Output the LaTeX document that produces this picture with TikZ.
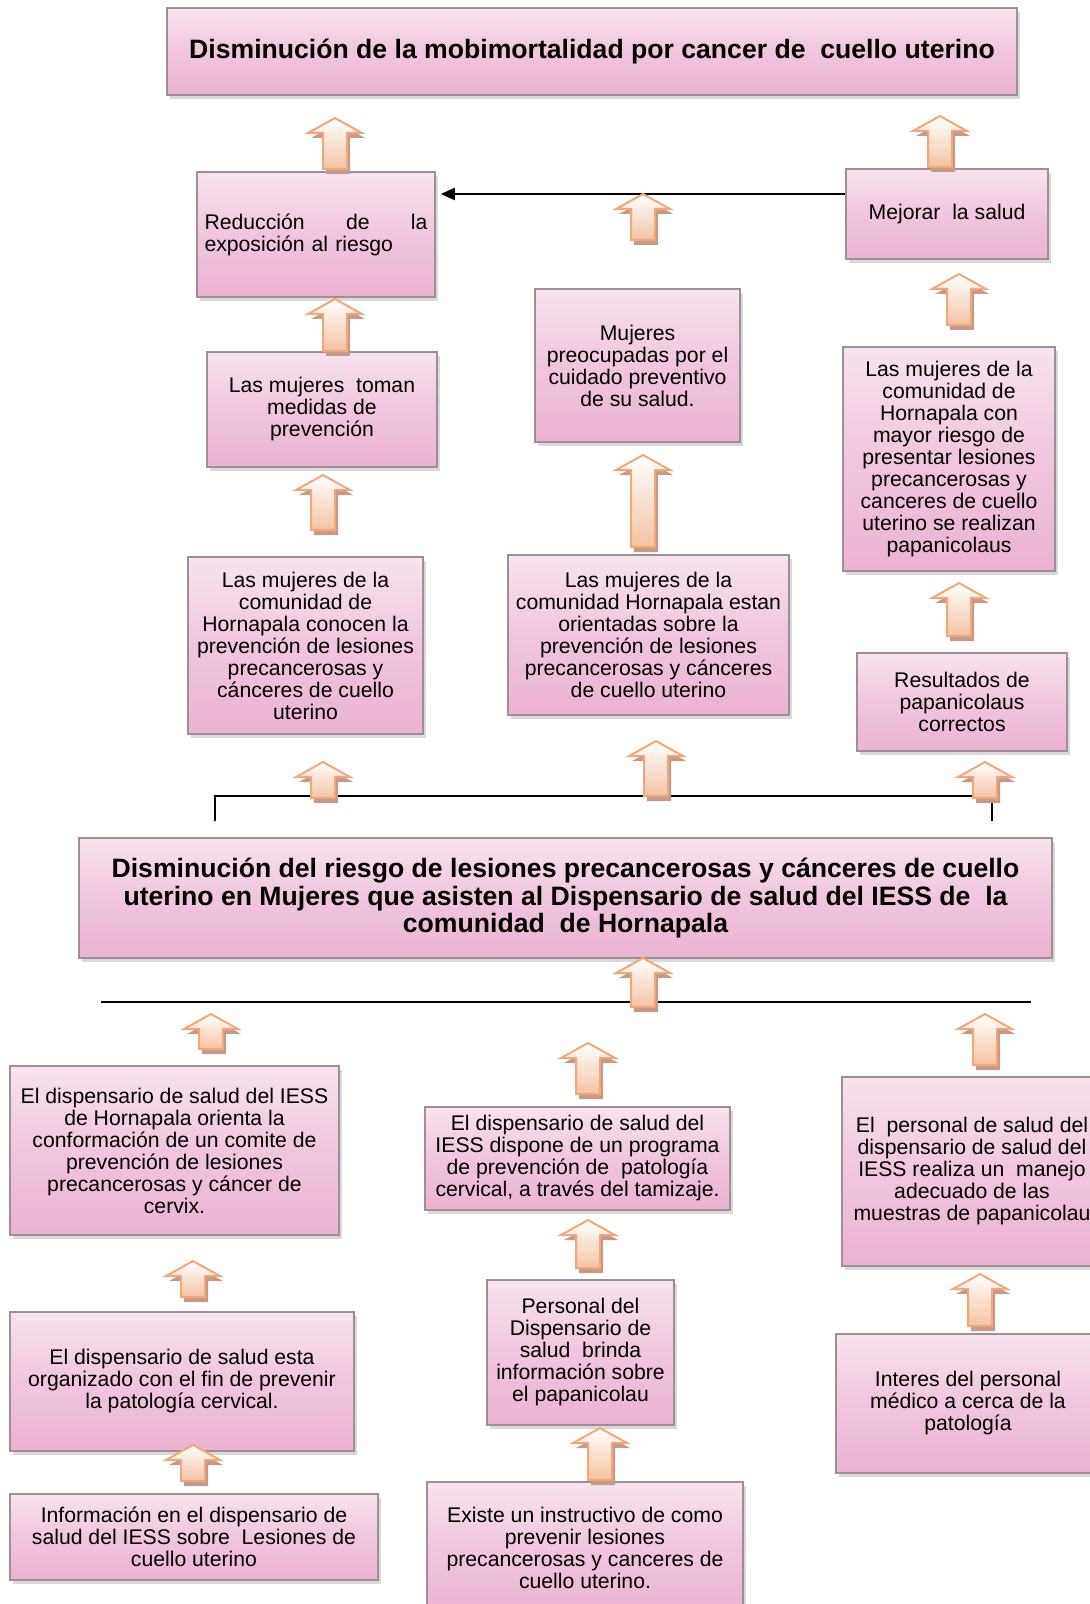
\documentclass[tikz,border=0pt]{standalone}
\usepackage{fontspec}
\setmainfont{Liberation Sans}
\usepackage{xcolor}
\usepackage{tikz}
\usetikzlibrary{arrows.meta,shadows}

\definecolor{cajaarriba}{HTML}{F7E3EE}
\definecolor{cajamedio}{HTML}{EFC6DD}
\definecolor{cajaabajo}{HTML}{EBB3D2}
\definecolor{cajaborde}{HTML}{9E8E96}
\definecolor{flechafondo}{HTML}{F5C2A2}
\definecolor{flechaborde}{HTML}{F2A77A}
\definecolor{flechasombra}{HTML}{C49A8A}

\tikzset{
  caja/.style={draw=cajaborde, line width=0.8pt, top color=cajaarriba, bottom color=cajaabajo,
    middle color=cajamedio, align=center, inner xsep=2pt, inner ysep=2pt,
    font=\fontsize{10.6}{11}\selectfont,
    drop shadow={shadow xshift=1.5pt, shadow yshift=-2pt, fill=black, opacity=0.15}},
  negrita/.style={caja, font=\fontsize{13.3}{13.8}\selectfont\bfseries},
  linea/.style={line width=1pt, black}
}

\begin{document}
\begin{tikzpicture}[x=0.5pt,y=-0.5pt]
\useasboundingbox (0,0) rectangle (1089,1604);

% fines
\node[negrita, minimum width=425pt, minimum height=43.5pt] (titulo) at (592,51.5)
  {Disminución de la mobimortalidad por cancer de\ \ cuello uterino};
\node[caja, minimum width=119pt, minimum height=62.5pt, text width=111.5pt, align=left] (reduccion) at (316,234.5)
  {Reducción \hfill de \hfill la\\exposición al riesgo};
\node[caja, minimum width=101pt, minimum height=45pt] (mejorar) at (947,214)
  {Mejorar\ \ la salud};
\node[caja, minimum width=102.5pt, minimum height=76.5pt] (preocupadas) at (637.5,365.5)
  {Mujeres\\preocupadas por el\\cuidado preventivo\\de su salud.};
\node[caja, minimum width=115pt, minimum height=57.5pt] (medidas) at (322,409.5)
  {Las mujeres\ \ toman\\medidas de\\prevención};
\node[caja, minimum width=106pt, minimum height=112pt] (riesgo) at (949,459)
  {Las mujeres de la\\comunidad de\\Hornapala con\\mayor riesgo de\\presentar lesiones\\precancerosas y\\canceres de cuello\\uterino se realizan\\papanicolaus};
\node[caja, minimum width=117.5pt, minimum height=88.5pt] (conocen) at (305.5,645.5)
  {Las mujeres de la\\comunidad de\\Hornapala conocen la\\prevención de lesiones\\precancerosas y\\cánceres de cuello\\uterino};
\node[caja, minimum width=140.5pt, minimum height=80pt] (orientadas) at (648.5,635)
  {Las mujeres de la\\comunidad Hornapala estan\\orientadas sobre la\\prevención de lesiones\\precancerosas y cánceres\\de cuello uterino};
\node[caja, minimum width=105pt, minimum height=49pt] (resultados) at (962,702)
  {Resultados de\\papanicolaus\\correctos};

% proposito
\node[negrita, minimum width=486.5pt, minimum height=60pt] (proposito) at (565.5,898)
  {Disminución del riesgo de lesiones precancerosas y cánceres de cuello\\uterino en Mujeres que asisten al Dispensario de salud del IESS de\ \ la\\comunidad\ \ de Hornapala};

% medios
\node[caja, minimum width=164.5pt, minimum height=84.5pt] (comite) at (174.5,1150.5)
  {El dispensario de salud del IESS\\de Hornapala orienta la\\conformación de un comite de\\prevención de lesiones\\precancerosas y cáncer de\\cervix.};
\node[caja, minimum width=152.5pt, minimum height=51.5pt] (programa) at (577.5,1158.5)
  {El dispensario de salud del\\IESS dispone de un programa\\de prevención de\ \ patología\\cervical, a través del tamizaje.};
\node[caja, minimum width=130pt, minimum height=94.5pt] (manejo) at (972,1171.5)
  {El\ \ personal de salud del\\dispensario de salud del\\IESS realiza un\ \ manejo\\adecuado de las\\muestras de papanicolau};
\node[caja, minimum width=172pt, minimum height=69.5pt] (organizado) at (182,1381.5)
  {El dispensario de salud esta\\organizado con el fin de prevenir\\la patología cervical.};
\node[caja, minimum width=93.5pt, minimum height=72.5pt] (brinda) at (580.5,1352.5)
  {Personal del\\Dispensario de\\salud\ \ brinda\\información sobre\\el papanicolau};
\node[caja, minimum width=132pt, minimum height=69.5pt] (interes) at (968,1403.5)
  {Interes del personal\\médico a cerca de la\\patología};
\node[caja, minimum width=184pt, minimum height=43pt] (informacion) at (194,1537)
  {Información en el dispensario de\\salud del IESS sobre\ \ Lesiones de\\cuello uterino};
\node[caja, minimum width=158pt, minimum height=66pt] (instructivo) at (585,1548)
  {Existe un instructivo de como\\prevenir lesiones\\precancerosas y canceres de\\cuello uterino.};

% lineas
\draw[linea, -{Triangle[length=7pt,width=6pt]}, shorten >=2.5pt] ([yshift=10pt]mejorar.west) -- ([yshift=10pt]mejorar.west -| reduccion.east);
\coordinate (llave1) at (215,821);
\coordinate (llave2) at (992,821);
\draw[linea] (llave1) -- ++(0,-25) -| (llave2);
\coordinate (base1) at (101,1002);
\coordinate (base2) at (1031,1002);
\draw[linea] (base1) -- (base2);

% flechas de bloque
\foreach \x/\t/\b in {335/118/169, 940/116/167, 643/194/240, 335/299/351, 959/274/325,
    323/475/530, 643/455/547, 959/583/636, 323/762/798, 656/741/796, 985/762/798,
    643/958/1007, 211/1014/1049, 588/1043/1094, 985/1014/1065, 193/1261/1297,
    588/1220/1268, 980/1274/1326, 193/1445/1481, 600/1428/1480} {
  \fill[flechasombra] ({\x+3},{\t+5}) -- ({\x+30},{\t+20}) -- ({\x+15},{\t+20}) -- ({\x+15},{\b+5})
    -- ({\x-9},{\b+5}) -- ({\x-9},{\t+20}) -- ({\x-24},{\t+20}) -- cycle;
  \shade[top color=white, bottom color=flechafondo, draw=flechaborde, line width=1pt]
    (\x,\t) -- ({\x+27},{\t+15}) -- ({\x+12},{\t+15}) -- ({\x+12},\b)
    -- ({\x-12},\b) -- ({\x-12},{\t+15}) -- ({\x-27},{\t+15}) -- cycle;
}
\end{tikzpicture}
\end{document}
